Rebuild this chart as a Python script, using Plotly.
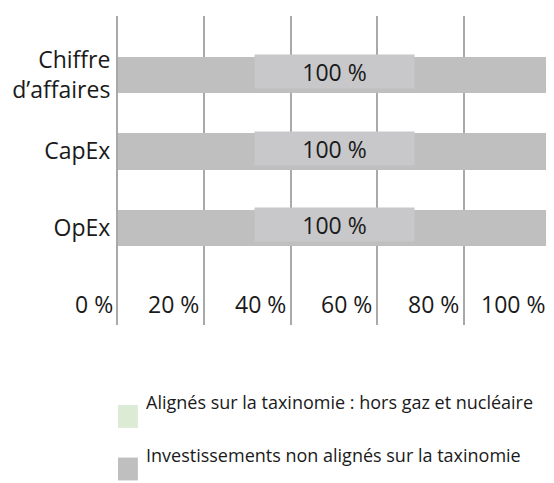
import plotly.graph_objects as go

categories = ["Chiffre d’affaires", "CapEx", "OpEx"]
category_labels = ["Chiffre<br>d’affaires", "CapEx", "OpEx"]
aligned_values = [0, 0, 0]
non_aligned_values = [100, 100, 100]
series_names = ["Alignés sur la taxinomie : hors gaz et nucléaire",
                "Investissements non alignés sur la taxinomie"]
series_colors = ["#dcebd6", "#bfbfbf"]
tick_vals = [0, 20, 40, 60, 80, 100]
tick_labels = ["0 %", "20 %", "40 %", "60 %", "80 %", "100 %"]

FONT = "Open Sans"
TXT = "#1a1a1a"
GRID = "#a9a9a9"

fig = go.Figure()
fig.add_trace(go.Bar(y=categories, x=aligned_values, orientation="h",
                     name=series_names[0], marker_color=series_colors[0],
                     width=0.48, showlegend=False))
fig.add_trace(go.Bar(y=categories, x=non_aligned_values, orientation="h",
                     name=series_names[1], marker_color=series_colors[1],
                     marker_line_width=0, width=0.48, showlegend=False))

annotations = []
for cat, a, v in zip(categories, aligned_values, non_aligned_values):
    annotations.append(dict(x=a + v / 2, y=cat, xref="x", yref="y",
                            text=f"{v} %", showarrow=False,
                            font=dict(family=FONT, size=23, color=TXT),
                            bgcolor="#c8c8ca", width=157, height=31, yshift=3))
for tv, tl in zip(tick_vals, tick_labels):
    annotations.append(dict(x=tv, y=-1.0, xref="x", yref="y", text=tl,
                            showarrow=False, xanchor="right", xshift=-3,
                            font=dict(family=FONT, size=23, color=TXT)))
shapes = []
leg_y = [-0.296, -0.466]
for name, color, ly in zip(series_names, series_colors, leg_y):
    shapes.append(dict(type="rect", xref="paper", yref="paper",
                       x0=0, x1=0.046, y0=ly - 0.037, y1=ly + 0.037,
                       fillcolor=color, line_width=0))
    annotations.append(dict(x=0.06, y=ly, xref="paper", yref="paper",
                            text=name, showarrow=False, xanchor="left",
                            font=dict(family=FONT, size=18, color=TXT)))

# page body has an 8px default margin: figure is sized/offset to compensate
fig.update_layout(
    width=546, height=475,
    margin=dict(l=110, r=4, t=8, b=158),
    paper_bgcolor="white", plot_bgcolor="white",
    barmode="stack", bargap=0,
    annotations=annotations, shapes=shapes,
    xaxis=dict(range=[0, 100], tickvals=tick_vals, showticklabels=False,
               showgrid=True, gridcolor=GRID, gridwidth=2,
               zeroline=False, showline=False, fixedrange=True),
    yaxis=dict(categoryorder="array", categoryarray=categories[::-1],
               range=[-1.27, 2.77], tickvals=categories, ticktext=category_labels,
               showgrid=False, zeroline=False,
               showline=True, mirror=True, linecolor=GRID, linewidth=2,
               automargin=False, ticks="", ticklabelstandoff=1,
               tickfont=dict(family=FONT, size=23, color=TXT)),
)

fig.write_html("out.html")
